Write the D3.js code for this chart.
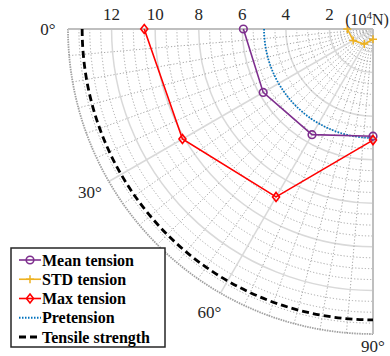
<!DOCTYPE html>
<html>
<head>
<meta charset="utf-8">
<script src="https://cdn.jsdelivr.net/npm/d3@7"></script>
<style>
  body { margin: 0; background: #fff; }
</style>
</head>
<body>
<div id="chart"></div>
<script>
// directions (degrees), 0 = left, 90 = down
const angles = [0, 30, 60, 90];
// tension values (10^4 N)
const meanTension = [5.95, 5.82, 5.6, 4.92];
const stdTension = [1.18, 1.05, 0.8, 0.47];
const maxTension = [10.5, 10.1, 8.9, 5.1];
const pretension = 5.0;
const tensileStrength = 13.35;

const radiusTicks = [2, 4, 6, 8, 10, 12];
const angleTicks = [0, 30, 60, 90];
const legendLabels = ["Mean tension", "STD tension", "Max tension", "Pretension", "Tensile strength"];

const width = 390, height = 356;
const cx = 373, cy = 29, R = 305;
const FONT = "'Liberation Serif', 'DejaVu Serif', serif";

const svg = d3.select("#chart").append("svg")
    .attr("width", width)
    .attr("height", height)
    .attr("font-family", FONT)
    .style("display", "block");

const r = d3.scaleLinear().domain([0, 14]).range([0, R]);
const a = d3.scaleLinear().domain([0, 90]).range([0, Math.PI / 2]);

// d3 radial angle: measured clockwise from up, we want left -> down
const toD3 = deg => -Math.PI / 2 - a(deg);
const px = (deg, v) => [cx - r(v) * Math.cos(a(deg)), cy + r(v) * Math.sin(a(deg))];

const g = svg.append("g").attr("transform", `translate(${cx},${cy})`);

// single quarter arc from 0 deg (left) to 90 deg (down)
const arcPath = v => {
    const p = d3.path();
    p.moveTo(-r(v), 0);
    p.arc(0, 0, r(v), Math.PI, Math.PI / 2, true);
    return p.toString();
};

// minor dotted circles
const minorCircles = d3.range(0.5, 14, 0.5).filter(v => v % 2 !== 0);
g.append("g").selectAll("path")
    .data(minorCircles)
    .enter().append("path")
    .attr("d", arcPath)
    .attr("fill", "none")
    .attr("stroke", "#a6a6a6")
    .attr("stroke-width", 1)
    .attr("stroke-dasharray", "1.2,2");

// major circles
g.append("g").selectAll("path")
    .data(radiusTicks)
    .enter().append("path")
    .attr("d", arcPath)
    .attr("fill", "none")
    .attr("stroke", "#d9d9d9")
    .attr("stroke-width", 1.5);

// minor radial lines every 5 degrees
const minorSpokes = d3.range(5, 90, 5).filter(d => d % 30 !== 0);
g.append("g").selectAll("line")
    .data(minorSpokes)
    .enter().append("line")
    .attr("x1", 0).attr("y1", 0)
    .attr("x2", d => -r(14) * Math.cos(a(d)))
    .attr("y2", d => r(14) * Math.sin(a(d)))
    .attr("stroke", "#a6a6a6")
    .attr("stroke-width", 1)
    .attr("stroke-dasharray", "1.2,2");

g.append("g").selectAll("line")
    .data([30, 60])
    .enter().append("line")
    .attr("x1", 0).attr("y1", 0)
    .attr("x2", d => -r(14) * Math.cos(a(d)))
    .attr("y2", d => r(14) * Math.sin(a(d)))
    .attr("stroke", "#d9d9d9")
    .attr("stroke-width", 1.5);

// outer boundary
g.append("path")
    .attr("d", arcPath(14))
    .attr("fill", "none")
    .attr("stroke", "#a0a0a0")
    .attr("stroke-width", 1.8)
    .attr("stroke-dasharray", "1.5,1");

// axis lines (0 and 90 deg)
g.append("line")
    .attr("x1", 0).attr("y1", 0).attr("x2", -r(14)).attr("y2", 0)
    .attr("stroke", "#bfbfbf").attr("stroke-width", 2);
g.append("line")
    .attr("x1", 0).attr("y1", 0).attr("x2", 0).attr("y2", r(14))
    .attr("stroke", "#bfbfbf").attr("stroke-width", 2);

// reference lines
g.append("path")
    .attr("d", arcPath(tensileStrength))
    .attr("fill", "none")
    .attr("stroke", "#000")
    .attr("stroke-width", 2.8)
    .attr("stroke-dasharray", "7,4");

g.append("path")
    .attr("d", arcPath(pretension))
    .attr("fill", "none")
    .attr("stroke", "#0072BD")
    .attr("stroke-width", 1.8)
    .attr("stroke-dasharray", "1.5,1.5");

// series
const radial = d3.lineRadial()
    .angle(d => toD3(d[0]))
    .radius(d => r(d[1]));

const series = [
    {name: "std", values: stdTension, color: "#EDB120", marker: "plus"},
    {name: "mean", values: meanTension, color: "#7E2F8E", marker: "circle"},
    {name: "max", values: maxTension, color: "#FF0000", marker: "diamond"}
];

function drawMarker(sel, type, color) {
    if (type === "circle") {
        sel.append("circle").attr("r", 3.8)
            .attr("fill", "none").attr("stroke", color).attr("stroke-width", 1.6);
    } else if (type === "diamond") {
        sel.append("path").attr("d", "M0,-4.5L3.5,0L0,4.5L-3.5,0Z")
            .attr("fill", "none").attr("stroke", color).attr("stroke-width", 1.6);
    } else {
        sel.append("path").attr("d", "M-4,0H4M0,-4V4")
            .attr("fill", "none").attr("stroke", color).attr("stroke-width", 1.5);
    }
}

series.forEach(s => {
    const pts = angles.map((d, i) => [d, s.values[i]]);
    g.append("path")
        .datum(pts)
        .attr("d", radial)
        .attr("fill", "none")
        .attr("stroke", s.color)
        .attr("stroke-width", 1.6);
    pts.forEach(p => {
        const [x, y] = px(p[0], p[1]);
        const m = svg.append("g").attr("transform", `translate(${x},${y})`);
        drawMarker(m, s.marker, s.color);
    });
});

// radius tick labels along the top
svg.append("g").selectAll("text")
    .data(radiusTicks)
    .enter().append("text")
    .attr("x", d => cx - r(d))
    .attr("y", 20)
    .attr("text-anchor", "middle")
    .attr("font-family", FONT)
    .attr("font-size", 17)
    .attr("fill", "#262626")
    .text(d => d);

const unit = svg.append("text")
    .attr("x", 367)
    .attr("y", 25)
    .attr("text-anchor", "middle")
    .attr("font-family", FONT)
    .attr("font-size", 16)
    .attr("fill", "#262626");
unit.append("tspan").text("(10");
unit.append("tspan").attr("font-size", 11).attr("dy", -6).text("4");
unit.append("tspan").attr("dy", 6).text("N)");

// angle labels
const labelOffset = [20, 22, 22, 12];
svg.append("g").selectAll("text")
    .data(angleTicks)
    .enter().append("text")
    .attr("x", (d, i) => px(d, 14)[0] - labelOffset[i] * Math.cos(a(d)))
    .attr("y", (d, i) => px(d, 14)[1] + labelOffset[i] * Math.sin(a(d)))
    .attr("dy", "0.35em")
    .attr("text-anchor", "middle")
    .attr("font-family", FONT)
    .attr("font-size", 17)
    .attr("fill", "#262626")
    .text(d => d + "°");

// legend
const lg = svg.append("g").attr("transform", "translate(11,248)");
lg.append("rect")
    .attr("width", 154).attr("height", 99)
    .attr("fill", "#fff")
    .attr("stroke", "#262626")
    .attr("stroke-width", 1.5);

const legendStyles = [
    {color: "#7E2F8E", marker: "circle", dash: null, w: 1.6},
    {color: "#EDB120", marker: "plus", dash: null, w: 1.6},
    {color: "#FF0000", marker: "diamond", dash: null, w: 1.6},
    {color: "#0072BD", marker: null, dash: "1.5,1.5", w: 1.8},
    {color: "#000", marker: null, dash: "7,4", w: 2.8}
];

legendLabels.forEach((label, i) => {
    const y = 12 + i * 19.25;
    const st = legendStyles[i];
    lg.append("line")
        .attr("x1", 8).attr("x2", 30)
        .attr("y1", y).attr("y2", y)
        .attr("stroke", st.color)
        .attr("stroke-width", st.w)
        .attr("stroke-dasharray", st.dash);
    if (st.marker) {
        drawMarker(lg.append("g").attr("transform", `translate(19,${y})`), st.marker, st.color);
    }
    lg.append("text")
        .attr("x", 31)
        .attr("y", y)
        .attr("dy", "0.35em")
        .attr("font-family", FONT)
        .attr("font-size", 16)
        .attr("font-weight", "bold")
        .attr("fill", "#000")
        .text(label);
});
</script>
</body>
</html>
